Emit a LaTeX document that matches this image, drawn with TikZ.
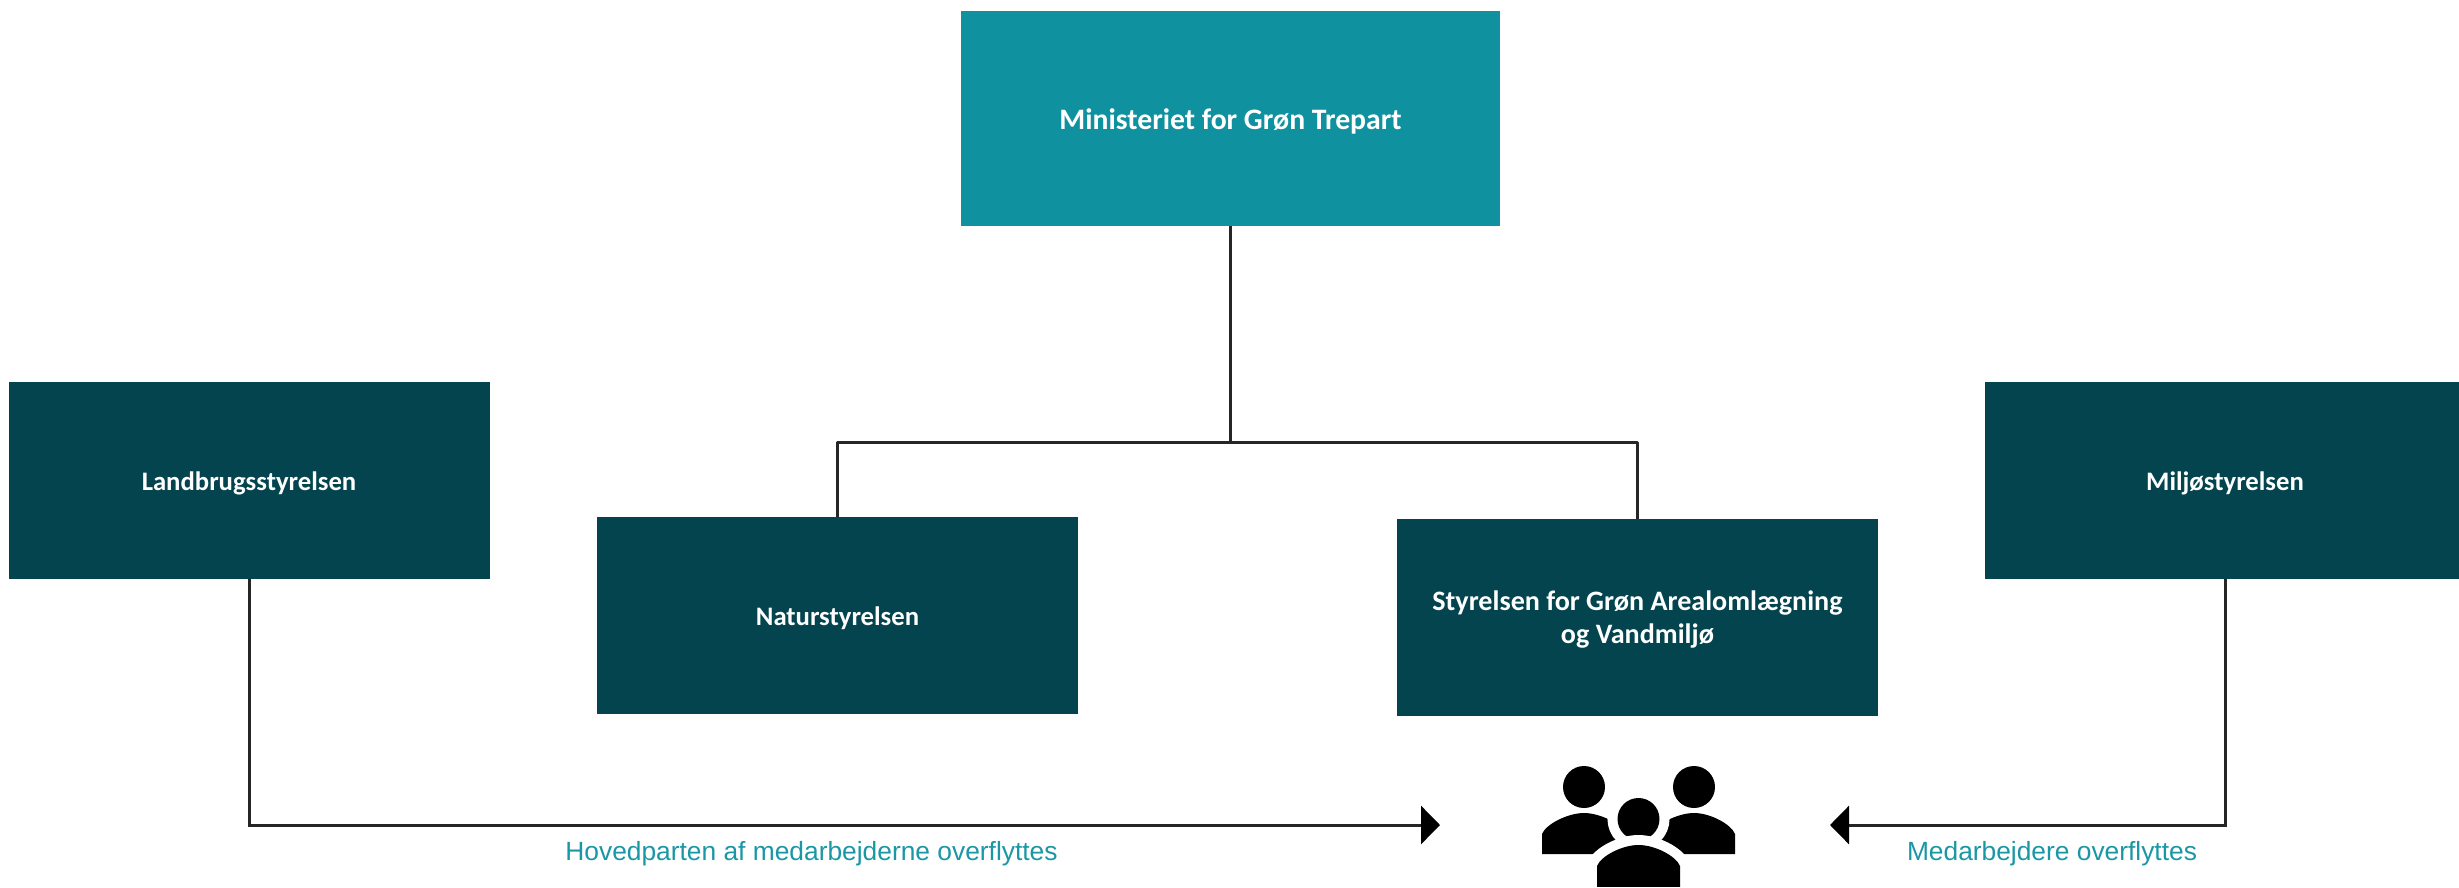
\documentclass[tikz,border=0pt]{standalone}
\usepackage{fontspec}
\setmainfont{Carlito}
\newfontfamily\labelfont{Liberation Sans}
\usetikzlibrary{arrows.meta}
\definecolor{topteal}{HTML}{10919F}
\definecolor{darkteal}{HTML}{03444F}
\definecolor{labelteal}{HTML}{1A97A5}
\definecolor{linegray}{HTML}{262626}
\newcommand{\lowertext}[1]{\raisebox{0pt}[\dimexpr\height+3.6pt\relax][\depth]{#1}}
\tikzset{
  x=0.02cm,y=-0.02cm,
  boxbase/.style={inner sep=0pt,outer sep=0pt,align=center,text=white,
    font=\fontsize{15.2pt}{18.8pt}\selectfont\bfseries},
  topbox/.style={boxbase,fill=topteal,minimum width=539*0.02cm,minimum height=215*0.02cm,
    font=\fontsize{16.9pt}{20pt}\selectfont\bfseries},
  darkbox/.style={boxbase,fill=darkteal,minimum width=481*0.02cm,minimum height=197*0.02cm},
  link/.style={draw=linegray,line width=0.06cm},
  flow/.style={link,-{Triangle[length=0.38cm,width=0.76cm,color=black,fill=black]}},
  note/.style={inner sep=0pt,text=labelteal,font=\labelfont\fontsize{15pt}{18pt}\selectfont},
  person/.style={fill=black,draw=none},
  personcut/.style={fill=black,preaction={draw=white,line width=0.4cm}}
}
\begin{document}
\begin{tikzpicture}
\useasboundingbox (0,0) rectangle (2459,887);
\node[topbox] (min) at (1230.5,118.5) {\lowertext{Ministeriet for Grøn Trepart}};
\node[darkbox] (land) at (249,480.5) {\lowertext{Landbrugsstyrelsen}};
\node[darkbox] (nat) at (837.5,615.5) {\lowertext{Naturstyrelsen}};
\node[darkbox,font=\fontsize{16pt}{18.8pt}\selectfont\bfseries] (sty) at (1637.5,617) {\lowertext{\begin{tabular}{@{}c@{}}Styrelsen for Grøn Arealomlægning\\og Vandmiljø\end{tabular}}};
\node[darkbox] (mil) at (2225,480.5) {\lowertext{Miljøstyrelsen}};
\coordinate (junction) at (min.south |- 0,442);
\coordinate (tipL) at (1440,825);
\coordinate (tipR) at (1830,825);
\draw[link] (min.south) -- (junction);
\draw[link,line join=round] (nat.north) |- (junction) -| (sty.north);
\draw[flow] (land.south) |- (tipL);
\draw[flow] (mil.south) |- (tipR);
\node[note] (noteL) at (811.5,854) {Hovedparten af medarbejderne overflyttes};
\node[note] (noteR) at (2052,854) {Medarbejdere overflyttes};
% people icon
\fill[person] (1584,787) circle (21);
\fill[person] (1694,787) circle (21);
\fill[person] (1542,854) -- (1542,834) .. controls (1546,824) and (1568,813) .. (1584,813)
  .. controls (1600,813) and (1622,824) .. (1626,834) -- (1626,854) -- cycle;
\fill[person] (1652,854) -- (1652,834) .. controls (1656,824) and (1678,813) .. (1694,813)
  .. controls (1710,813) and (1731,824) .. (1735,834) -- (1735,854) -- cycle;
\path[personcut] (1638.5,819) circle (21);
\path[personcut] (1597,900) -- (1597,866) .. controls (1601,856) and (1622,845) .. (1638.5,845)
  .. controls (1655,845) and (1676,856) .. (1680,866) -- (1680,900) -- cycle;
\fill[white] (1540,887) rectangle (1740,900);
\end{tikzpicture}
\end{document}
